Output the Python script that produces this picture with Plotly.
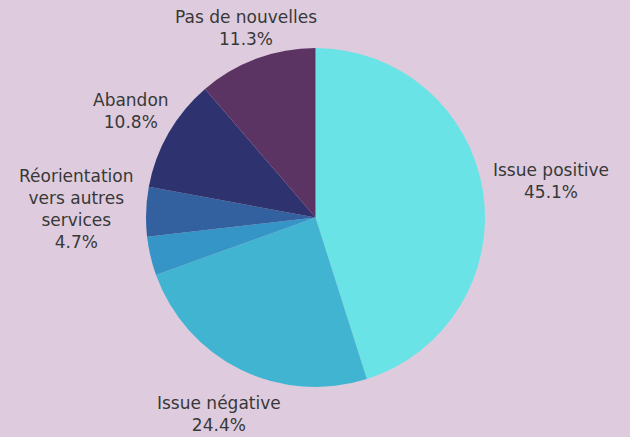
import plotly.graph_objects as go

labels = ["Issue positive", "Issue négative", "Autre", "Réorientation<br>vers autres<br>services", "Abandon", "Pas de nouvelles"]
values = [45.1, 24.4, 3.7, 4.7, 10.8, 11.3]
shown = [True, True, False, True, True, True]
colors = ["#6AE3E6", "#41B4D2", "#3595C6", "#33609E", "#2E336F", "#5C3464"]
# label placement (pixels, style only)
label_xy = [(551, 181), (219, 414), None, (76, 209), (131, 111), (246, 28)]

W, H = 630, 437

fig = go.Figure(go.Pie(
    labels=labels,
    values=values,
    textinfo="none",
    sort=False,
    direction="clockwise",
    rotation=0,
    marker=dict(colors=colors, line=dict(width=0)),
    domain=dict(x=[146/W, 485/W], y=[1-387/H, 1-48/H]),
    automargin=False,
    showlegend=False,
    hoverinfo="label+percent",
))

for l, v, s, xy in zip(labels, values, shown, label_xy):
    if not s or xy is None:
        continue
    fig.add_annotation(
        x=xy[0]/W, y=1-xy[1]/H, xref="paper", yref="paper",
        text=f"{l}<br>{v}%", showarrow=False,
        xanchor="center", yanchor="middle", align="center",
        font=dict(family="DejaVu Sans", size=17, color="#383838"),
    )

fig.update_layout(
    width=W, height=H,
    margin=dict(l=0, r=0, t=0, b=0),
    paper_bgcolor="#DECCDE",
    plot_bgcolor="#DECCDE",
)

fig.write_html("out.html", config={"displayModeBar": False},
               post_script="document.body.style.margin='0';document.body.style.padding='0';document.body.style.background='#DECCDE';")
